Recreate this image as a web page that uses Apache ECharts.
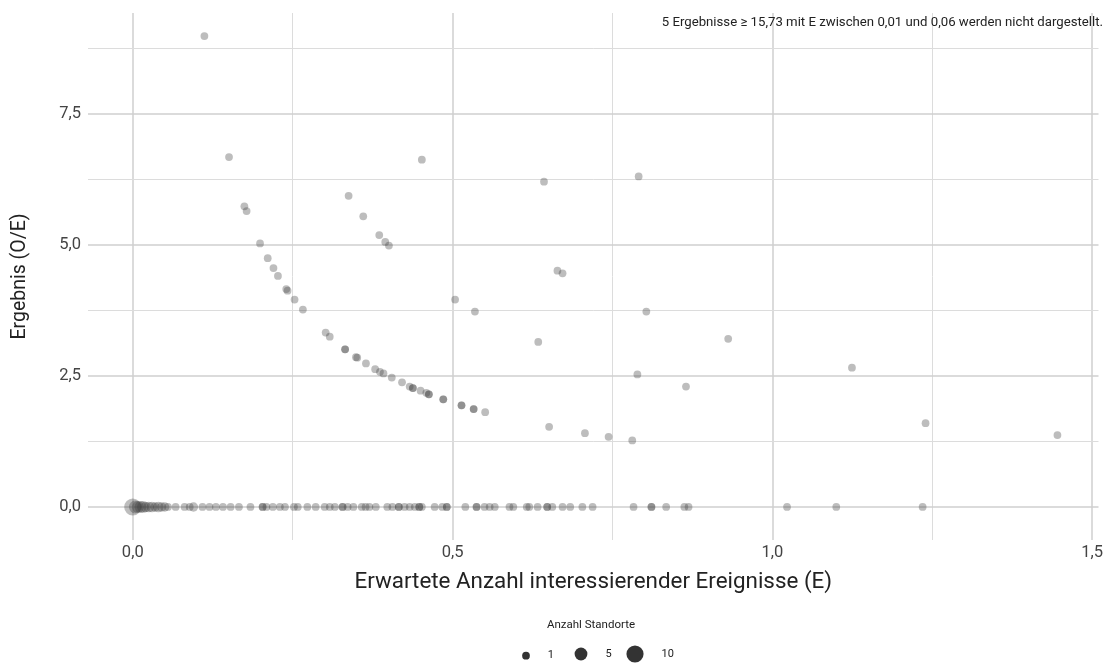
<!DOCTYPE html>
<html><head><meta charset="utf-8">
<script src="https://cdn.jsdelivr.net/npm/echarts@6/dist/echarts.min.js"></script>
<style>html,body{margin:0;padding:0;background:#fff}#c{width:1106px;height:663px}</style>
</head><body><div id="c"></div>
<script>
// Points with O > 0 (each one Standort)
const expectedPos = [0.112,0.1505,0.1745,0.178,0.199,0.211,0.22,0.227,0.240,0.242,0.253,0.266,0.3016,0.308,0.332,0.332,0.349,0.351,0.3646,0.379,0.3865,0.392,0.405,0.421,0.433,0.438,0.438,0.45,0.459,0.463,0.463,0.4855,0.4855,0.514,0.514,0.533,0.533,0.551,
  0.3375,0.3604,0.3854,0.3948,0.4005,
  0.452,0.643,0.791,0.664,0.672,0.504,0.535,0.803,0.634,0.931,1.1245,0.789,0.865,0.651,0.707,0.744,0.781,1.2396,1.4458];
const resultPos = [8.99,6.68,5.74,5.65,5.03,4.75,4.56,4.41,4.16,4.13,3.96,3.77,3.33,3.25,3.01,3.01,2.86,2.85,2.74,2.63,2.58,2.55,2.47,2.38,2.30,2.27,2.27,2.22,2.18,2.15,2.15,2.055,2.055,1.94,1.94,1.87,1.87,1.81,
  5.94,5.55,5.19,5.06,4.99,
  6.63,6.21,6.31,4.51,4.46,3.96,3.73,3.73,3.15,3.21,2.66,2.53,2.30,1.53,1.41,1.34,1.27,1.60,1.374];
// Points with O = 0
const expectedZero = [0,0.004,0.008,0.012,0.016,0.02,0.025,0.03,0.035,0.04,0.045,0.05,0.055,0.067,0.081,0.089,0.095,0.109,0.120,0.130,0.141,0.153,0.166,0.184,0.203,0.203,0.209,0.219,0.230,0.238,0.252,0.258,0.273,0.286,0.300,0.308,0.316,0.328,0.328,0.336,0.345,0.358,0.364,0.370,0.380,0.398,0.406,0.416,0.416,0.425,0.433,0.441,0.448,0.448,0.452,0.472,0.484,0.491,0.491,0.520,0.5375,0.5375,0.55,0.558,0.566,0.589,0.595,0.616,0.620,0.633,0.648,0.648,0.656,0.672,0.684,0.703,0.719,0.783,0.811,0.811,0.834,0.8625,0.869,1.023,1.1,1.235];
const sitesZero = [10,5,4,4,4,3,3,3,2,3,2,2,1,1,1,1,2,1,1,1,1,1,1,1,1,1,1,1,1,1,1,1,1,1,1,1,1,1,1,1,1,1,1,1,1,1,1,1,1,1,1,1,1,1,1,1,1,1,1,1,1,1,1,1,1,1,1,1,1,1,1,1,1,1,1,1,1,1,1,1,1,1,1,1,1,1];
const legendSites = [1, 5, 10];
const xTickValues = [0, 0.5, 1, 1.5];
const xTicks = ['0,0','0,5','1,0','1,5'];
const yTickValues = [0, 2.5, 5, 7.5];
const yTicks = ['0,0','2,5','5,0','7,5'];
const xGrid = [0, 0.25, 0.5, 0.75, 1, 1.25, 1.5];
const yGrid = [0, 1.25, 2.5, 3.75, 5, 6.25, 7.5, 8.75];
const noteText = '5 Ergebnisse \u2265 15,73 mit E zwischen 0,01 und 0,06 werden nicht dargestellt.';

function sizeFor(n){ return Math.sqrt(60 + (n - 1) * 26); }
const pts = expectedPos.map((e,i)=>[e, resultPos[i], 1]).concat(expectedZero.map((e,i)=>[e, 0, sitesZero[i]]));

const FONT = 'Roboto';
const chart = echarts.init(document.getElementById('c'), null, {renderer:'canvas'});
const legendCenters = [526, 581, 635];
const legends = legendSites.map((n,i)=>{
  const d = sizeFor(n);
  return {data:[String(n)], left: legendCenters[i]-d/2, top: 654-d/2, padding:0, icon:'circle',
    itemWidth:d, itemHeight:d, textStyle:{fontFamily:FONT,fontSize:11,color:'#222',padding:[0,0,0,13]}, selectedMode:false};
});
const isMajorX = v => xTickValues.indexOf(v) >= 0;
const isMajorY = v => yTickValues.indexOf(v) >= 0;
const gridLines = xGrid.map(v=>({xAxis:v, lineStyle:{color: isMajorX(v)?'#cfcfcf':'#dcdcdc', width: isMajorX(v)?1.5:1, type:'solid'}}))
  .concat(yGrid.map(v=>({yAxis:v, lineStyle:{color: isMajorY(v)?'#cfcfcf':'#dcdcdc', width: isMajorY(v)?1.5:1, type:'solid'}})));
const option = {
  animation:false,
  textStyle:{fontFamily:FONT},
  title:[
    {text:noteText, right:3, top:16, padding:0, textStyle:{fontFamily:FONT,fontSize:13.2,fontWeight:'normal',color:'#222'}},
    {text:'Anzahl Standorte', left:591, top:619, padding:0, textAlign:'center', textStyle:{fontFamily:FONT,fontSize:11.5,fontWeight:'normal',color:'#222'}}
  ],
  legend: legends,
  grid:{left:88, right:6, top:13, bottom:123, containLabel:false},
  xAxis:{type:'value', min:-0.07, max:1.51,
     axisLine:{show:false}, axisTick:{show:false}, splitLine:{show:false},
     axisLabel:{customValues:xTickValues, margin:4, fontSize:16.5, color:'#444', fontFamily:FONT,
       formatter:v=>{const k=xTickValues.indexOf(v); return k>=0 ? xTicks[k] : '';}},
     name:'Erwartete Anzahl interessierender Ereignisse (E)', nameLocation:'middle', nameGap:31,
     nameTextStyle:{fontSize:22.4, color:'#222', fontFamily:FONT}},
  yAxis:{type:'value', min:-0.63, max:9.43,
     axisLine:{show:false}, axisTick:{show:false}, splitLine:{show:false},
     axisLabel:{customValues:yTickValues, margin:7, fontSize:16.5, color:'#444', fontFamily:FONT,
       formatter:v=>{const k=yTickValues.indexOf(v); return k>=0 ? yTicks[k] : '';}},
     name:'Ergebnis (O/E)', nameLocation:'middle', nameGap:58,
     nameTextStyle:{fontSize:19.5, color:'#222', fontFamily:FONT}},
  series:[
    {type:'scatter', name:'grid', data:[], silent:true, z:1,
     markLine:{silent:true, symbol:['none','none'], label:{show:false}, animation:false, data:gridLines}},
    {type:'scatter', name:'Standorte', data:pts,
     symbolSize:v=>sizeFor(v[2]), itemStyle:{color:'rgba(60,60,60,0.42)'}, z:5},
  ].concat(legendSites.map(n=>({type:'scatter', name:String(n), data:[], itemStyle:{color:'#000'}})))
};
chart.setOption(option);
</script></body></html>
